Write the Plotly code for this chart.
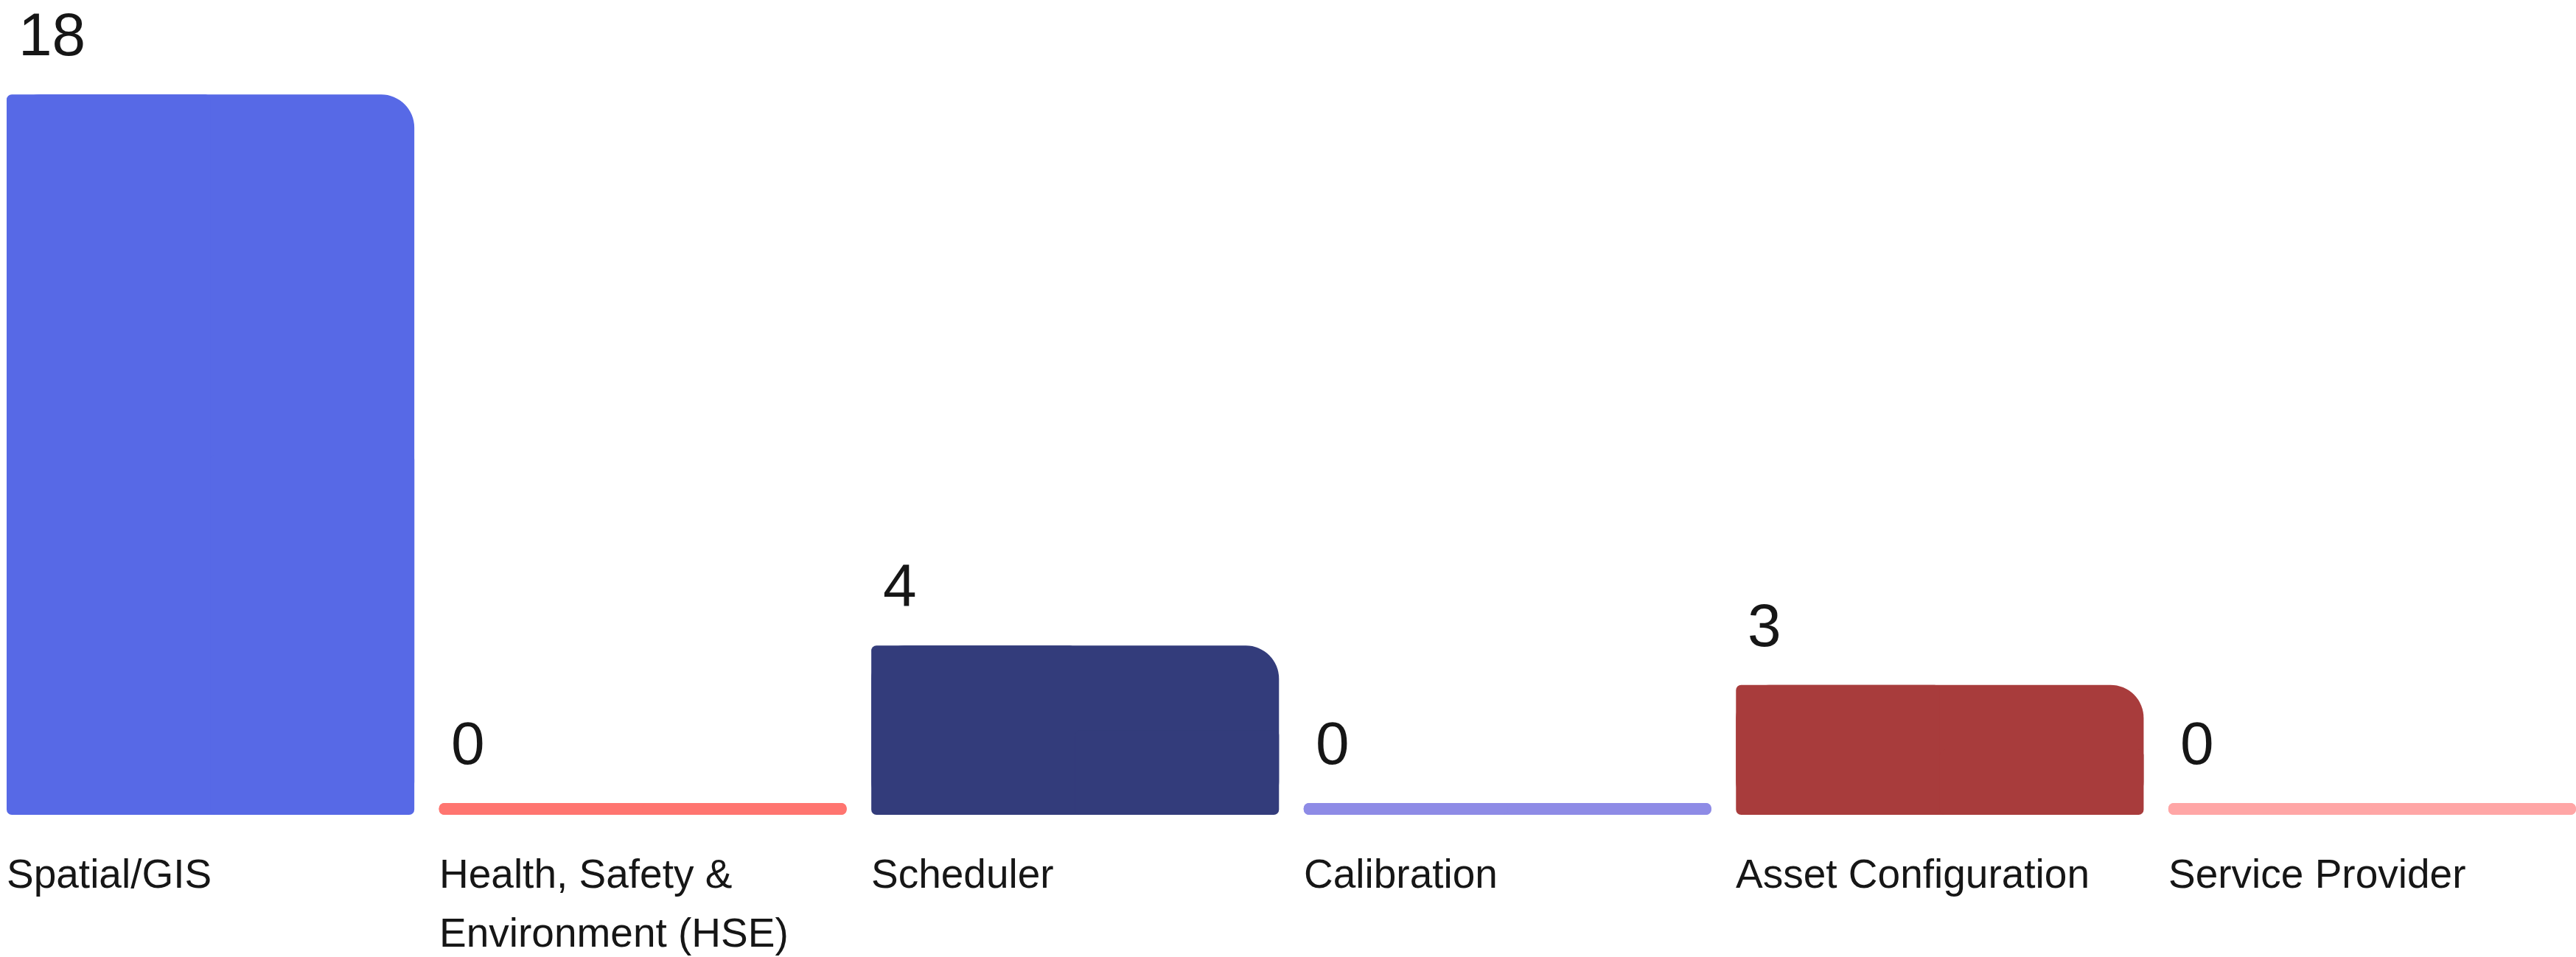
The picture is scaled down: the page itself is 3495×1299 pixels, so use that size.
import plotly.graph_objects as go

categories = ["Spatial/GIS", "Health, Safety &<br>Environment (HSE)", "Scheduler",
              "Calibration", "Asset Configuration", "Service Provider"]
values = [18, 0, 4, 0, 3, 0]
colors = ["#5769E6", "#FF7570", "#333C7B", "#8E8BE6", "#A83C3C", "#FFA6A6"]

W, H = 3495, 1299
GAP = 0.057             # gap between bars in category units
BW = 1 - GAP            # bar width in category units
BASE = -0.3             # minimum visible bar stub for zero values
FONT = "Liberation Sans, Arial, sans-serif"
TEXT = "#161616"

idx = list(range(len(categories)))
heights = [v - BASE for v in values]

fig = go.Figure()
# full bars: large top-right corner radius
fig.add_trace(go.Bar(
    x=idx, y=heights, base=BASE, width=BW,
    marker=dict(color=colors, cornerradius=45, line=dict(width=0)),
    hoverinfo="skip", showlegend=False))
# left halves: small corner radius (top-left / bottom-left)
fig.add_trace(go.Bar(
    x=idx, y=heights, base=BASE, width=BW / 2, offset=-BW / 2,
    marker=dict(color=colors, cornerradius=7, line=dict(width=0)),
    hoverinfo="skip", showlegend=False))
# lower right quarter: small bottom-right corner radius
fig.add_trace(go.Bar(
    x=idx, y=[h / 2 if v > 0 else h for h, v in zip(heights, values)], base=BASE,
    width=BW / 2, offset=0,
    marker=dict(color=colors, cornerradius=7, line=dict(width=0)),
    hoverinfo="skip", showlegend=False))

annotations = []
for i, (cat, v) in enumerate(zip(categories, values)):
    left = i - BW / 2
    annotations.append(dict(
        x=left, y=v, xref="x", yref="y", text=str(v), showarrow=False,
        xanchor="left", yanchor="bottom", xshift=14, yshift=34,
        font=dict(family=FONT, size=82, color=TEXT)))
    for j, line in enumerate(cat.split("<br>")):
        annotations.append(dict(
            x=left, y=0, xref="x", yref="paper", text=line, showarrow=False,
            xanchor="left", yanchor="middle", xshift=-2, yshift=-80 - 80 * j,
            font=dict(family=FONT, size=55, color=TEXT)))

fig.update_layout(
    width=W, height=H,
    margin=dict(l=9, r=0, t=0, b=193),
    paper_bgcolor="white", plot_bgcolor="white",
    barmode="overlay",
    xaxis=dict(range=[-0.5 + GAP / 2, len(categories) - 0.5 - GAP / 2],
               showticklabels=False, showgrid=False, zeroline=False,
               showline=False, ticks=""),
    yaxis=dict(range=[BASE, 20.4], visible=False, showgrid=False, zeroline=False),
    annotations=annotations,
    font=dict(family=FONT, color=TEXT),
)

fig.write_html("out.html", config={"displayModeBar": False},
               post_script="document.body.style.margin='0';")
